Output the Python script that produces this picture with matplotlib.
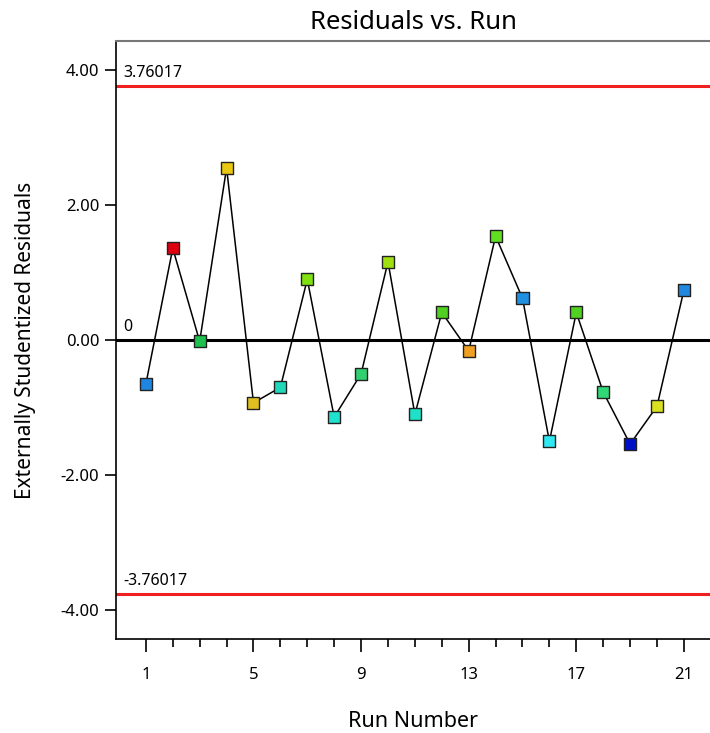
import matplotlib.pyplot as plt
import numpy as np

plt.rcParams["font.family"] = ["Noto Sans", "DejaVu Sans"]

run = np.arange(1, 22)
resid = [-0.65, 1.36, -0.02, 2.55, -0.93, -0.70, 0.90, -1.14, -0.50, 1.16, -1.10,
         0.41, -0.16, 1.54, 0.62, -1.50, 0.41, -0.77, -1.54, -0.98, 0.74]
point_colors = ["#1f86e0", "#e00010", "#20c050", "#e8c810", "#e0c020", "#20d8b8",
                "#80e010", "#20e0d0", "#30d070", "#a0e010", "#20e0c8", "#50d020",
                "#f0a020", "#60e020", "#2090e0", "#30e8f0", "#50d020", "#30d878",
                "#0010c8", "#d8e020", "#2088e0"]
limit = 3.76017
major_x = [1, 5, 9, 13, 17, 21]
major_y = [-4, -2, 0, 2, 4]

fig = plt.figure(figsize=(7.1, 7.33), dpi=100)
ax = fig.add_axes([0.1634, 0.128, 0.8366, 0.816])

ax.axhline(limit, color="#f02020", lw=2.2, zorder=1)
ax.axhline(-limit, color="#f02020", lw=2.2, zorder=1)
ax.axhline(0, color="black", lw=2.2, zorder=1)
ax.text(0.15, limit + 0.08, "%.5f" % limit, fontsize=11.5, va="bottom")
ax.text(0.15, -limit + 0.08, "%.5f" % -limit, fontsize=11.5, va="bottom")
ax.text(0.15, 0.08, "0", fontsize=11.5, va="bottom")

ax.plot(run, resid, color="black", lw=1.1, zorder=2)
ax.scatter(run, resid, marker="s", s=75, c=point_colors, edgecolors="#222222",
           linewidths=1.0, zorder=3)

ax.set_xlim(-0.11, 21.97)
ax.set_ylim(-4.43, 4.43)
ax.set_xticks(major_x)
ax.set_xticks(run, minor=True)
ax.set_yticks(major_y)
ax.set_yticklabels(["%.2f" % v for v in major_y])
ax.tick_params(axis="x", which="major", length=9, width=1.2, labelsize=12, pad=11)
ax.tick_params(axis="x", which="minor", length=6, width=1.2)
ax.tick_params(axis="y", length=8, width=1.2, labelsize=12, pad=4)

ax.spines["right"].set_visible(False)
ax.spines["top"].set_color("#777777")
ax.spines["top"].set_linewidth(1.5)
ax.spines["left"].set_linewidth(1.2)
ax.spines["bottom"].set_linewidth(1.2)

ax.set_title("Residuals vs. Run", fontsize=18.5, pad=9)
ax.set_xlabel("Run Number", fontsize=15.5, labelpad=20)
ax.set_ylabel("Externally Studentized Residuals", fontsize=15, labelpad=18)

fig.savefig("out.png", dpi=100)
